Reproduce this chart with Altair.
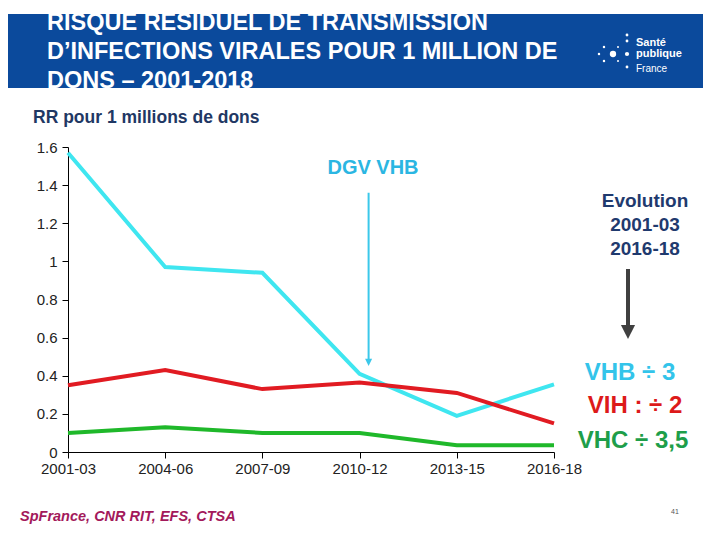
import altair as alt
import pandas as pd

periods = ["2001-03", "2004-06", "2007-09", "2010-12", "2013-15", "2016-18"]
vhb = [1.57, 0.97, 0.94, 0.41, 0.19, 0.355]
vih = [0.35, 0.43, 0.33, 0.365, 0.31, 0.15]
vhc = [0.10, 0.13, 0.10, 0.10, 0.035, 0.035]
y_ticks = [0, 0.2, 0.4, 0.6, 0.8, 1.0, 1.2, 1.4, 1.6]

title_lines = ["RISQUE RESIDUEL DE TRANSMISSION",
               "D\u2019INFECTIONS VIRALES POUR 1 MILLION DE",
               "DONS \u2013 2001-2018"]
subtitle = "RR pour 1 millions de dons"
source = "SpFrance, CNR RIT,  EFS, CTSA"
evo_lines = ["Evolution", "2001-03", "2016-18"]
result_lines = ["VHB \u00f7 3", "VIH : \u00f7 2", "VHC \u00f7 3,5"]
logo_lines = ["Sant\u00e9", "publique", "France"]
dgv_label = "DGV VHB"
dgv_period = "2010-12"
dgv_top, dgv_bottom = 1.36, 0.47

FONT = "Liberation Sans"
CYAN = "#3FE6F0"
RED = "#E11B22"
GREEN = "#1FB82A"

W, H = 486, 305

x_scale = alt.Scale(type="point", domain=periods, padding=0)
y_scale = alt.Scale(domain=[0, 1.6], nice=False)
x_axis = alt.Axis(labelAngle=0, labelFont=FONT, labelFontSize=15, labelColor="#222222",
                  domainColor="#000000", tickColor="#000000", tickSize=6,
                  labelPadding=3, grid=False, labelOverlap=False)
y_axis = alt.Axis(values=y_ticks, format=".1~f", labelFont=FONT, labelFontSize=15,
                  labelColor="#222222", domainColor="#000000", tickColor="#000000",
                  tickSize=6, labelPadding=5, grid=False, labelOverlap=False)

def xe(field):
    return alt.X(f"{field}:O", sort=periods, title=None, scale=x_scale, axis=x_axis)

def ye(field):
    return alt.Y(f"{field}:Q", title=None, scale=y_scale, axis=y_axis)

def series_layer(vals, color):
    df = pd.DataFrame({"period": periods, "value": vals})
    return alt.Chart(df).mark_line(color=color, strokeWidth=4).encode(x=xe("period"), y=ye("value"))

lines = [series_layer(vhb, CYAN), series_layer(vih, RED), series_layer(vhc, GREEN)]

one = pd.DataFrame({"a": [0]})

def label(text, x, y, align="left", **kw):
    return alt.Chart(one).mark_text(align=align, baseline="alphabetic", font=FONT,
                                    text=text, **kw).encode(x=alt.value(x), y=alt.value(y))

# header bar
header = alt.Chart(one).mark_rect(color="#0B4A9C").encode(
    x=alt.value(-60), x2=alt.value(635), y=alt.value(-133), y2=alt.value(-59))

title_layers = [label(t, -21, yy, fontSize=23.5, fontWeight="bold", color="white")
                for t, yy in zip(title_lines, [-117, -88, -59])]

logo_layers = [label(logo_lines[0], 568, -101, fontSize=11, fontWeight="bold", color="white"),
               label(logo_lines[1], 568, -90, fontSize=11, fontWeight="bold", color="white"),
               label(logo_lines[2], 568, -75, fontSize=10, color="white")]
dots_x = [545, 559, 559, 559, 559, 536, 531, 536, 550, 550]
dots_y = [-93, -112, -106, -93, -80, -100, -93, -86, -100, -86]
dots_s = [40, 8, 8, 18, 8, 6, 6, 6, 4, 4]
dot_layers = [alt.Chart(one).mark_point(filled=True, color="white", opacity=1, shape="circle").encode(
    x=alt.value(dx), y=alt.value(dy), size=alt.value(ds))
    for dx, dy, ds in zip(dots_x, dots_y, dots_s)]

sub = label(subtitle, -35, -24, fontSize=17.5, fontWeight="bold", color="#1F3864")
foot = label(source, -48, 374, fontSize=14.5, fontWeight="bold", fontStyle="italic", color="#A3195B")
page = label("41", 603, 367, fontSize=7, color="#555555")

# DGV VHB annotation
dgv_txt = label(dgv_label, 305, 27, align="center", fontSize=20, fontWeight="bold", color="#2BB6E2")
dgv_df = pd.DataFrame({"period": [dgv_period], "top": [dgv_top], "bottom": [dgv_bottom]})
dgv_rule = alt.Chart(dgv_df).mark_rule(color="#3BC8EA", strokeWidth=2, xOffset=9).encode(
    x=xe("period"), y=ye("top"), y2="bottom:Q")
dgv_head = alt.Chart(dgv_df).mark_point(filled=True, color="#3BC8EA", opacity=1, xOffset=9,
                                        shape="M-1,-1L1,-1L0,1Z", size=50).encode(
    x=xe("period"), y=ye("bottom"))

# Evolution annotation
evo_layers = [label(t, 577, yy, align="center", fontSize=19, fontWeight="bold", color="#1F3A6E")
              for t, yy in zip(evo_lines, [60, 84, 108])]
evo_rule = alt.Chart(one).mark_rule(color="#404040", strokeWidth=4).encode(
    x=alt.value(560), y=alt.value(122), y2=alt.value(180))
evo_head = alt.Chart(one).mark_point(filled=True, color="#404040", opacity=1,
                                     shape="M-1,-1L1,-1L0,1Z", size=200).encode(
    x=alt.value(560), y=alt.value(185))

res_layers = [label(t, xx, yy, align="center", fontSize=24, fontWeight="bold", color=c)
              for t, xx, yy, c in zip(result_lines, [562, 567, 565], [233, 266, 301],
                                      ["#33C4EA", "#DD1A1A", "#1E9E4A"])]

chart = alt.layer(*lines, header, *title_layers, *logo_layers, *dot_layers, sub, foot, page,
                  dgv_rule, dgv_head, dgv_txt, *evo_layers, evo_rule, evo_head,
                  *res_layers).properties(
    width=W, height=H,
    padding={"left": 60, "top": 139, "right": 158, "bottom": 80},
    autosize=alt.AutoSizeParams(type="none"),
    background="white").configure_view(stroke=None)

chart.save("out.html", embed_options={"renderer": "svg", "actions": False})
